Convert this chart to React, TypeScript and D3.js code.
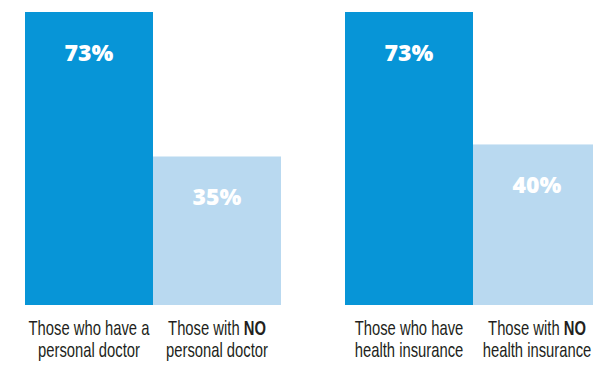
import React from "react";
import * as d3 from "d3";

const groups = ["doctor", "insurance"];
const series = ["have", "no"];
// bar heights as drawn in the picture (percent)
const barValues = [
  [73, 37],
  [73, 40],
];
const valueLabels = [
  ["73%", "35%"],
  ["73%", "40%"],
];
const categoryLines = [
  [
    [{ t: "Those who have a", b: false }],
    [{ t: "Those with ", b: false }, { t: "NO", b: true }],
  ],
  [
    [{ t: "Those who have", b: false }],
    [{ t: "Those with ", b: false }, { t: "NO", b: true }],
  ],
];
const categorySecondLines = [
  ["personal doctor", "personal doctor"],
  ["health insurance", "health insurance"],
];
const colors = ["#0795d7", "#b9d9f0"];

const W = 593;
const H = 365;
const condense = 0.74;
const catFont = "'Liberation Sans', Arial, sans-serif";

export default function App() {
  if (typeof document !== "undefined") document.body.style.margin = "0";
  const x0 = d3.scaleBand<string>().domain(groups).range([25, 601]).paddingInner(0.2).paddingOuter(0);
  const x1 = d3.scaleBand<string>().domain(series).range([0, x0.bandwidth()]).padding(0);
  const y = d3.scaleLinear().domain([0, 73]).range([305, 12]);

  return (
    <svg width={W} height={H} style={{ display: "block" }}>
      <rect width={W} height={H} fill="#fff" />
      {groups.map((g, gi) => (
        <g key={g} transform={`translate(${x0(g)},0)`}>
          {series.map((s, si) => {
            const v = barValues[gi][si];
            const bx = x1(s)!;
            const bw = x1.bandwidth();
            const top = y(v);
            const cx = bx + bw / 2;
            return (
              <g key={s}>
                <rect x={bx} y={top} width={bw} height={y(0) - top} fill={colors[si]} />
                <text
                  x={cx}
                  y={top + 49}
                  textAnchor="middle"
                  fill="#fff"
                  fontFamily="'Open Sans', sans-serif"
                  fontWeight={800}
                  fontSize={23}
                >
                  {valueLabels[gi][si]}
                </text>
                <text
                  transform={`translate(${cx},335) scale(${condense},1)`}
                  textAnchor="middle"
                  fill="#231f20"
                  fontFamily={catFont}
                  fontSize={20}
                >
                  {categoryLines[gi][si].map((p, pi) => (
                    <tspan key={pi} fontWeight={p.b ? 700 : 400}>
                      {p.t}
                    </tspan>
                  ))}
                </text>
                <text
                  transform={`translate(${cx},357) scale(${condense},1)`}
                  textAnchor="middle"
                  fill="#231f20"
                  fontFamily={catFont}
                  fontSize={20}
                >
                  {categorySecondLines[gi][si]}
                </text>
              </g>
            );
          })}
        </g>
      ))}
    </svg>
  );
}
